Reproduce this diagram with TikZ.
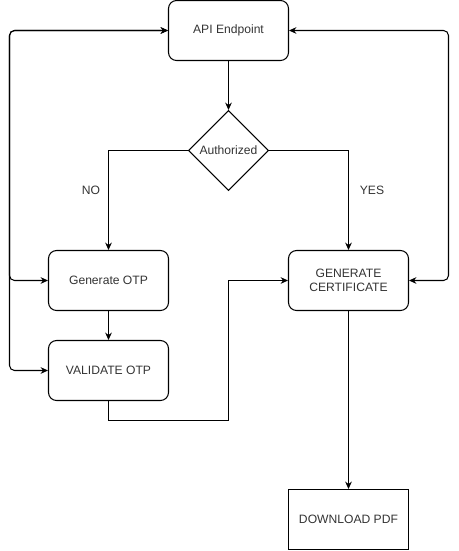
\documentclass[tikz,border=0pt]{standalone}
\usepackage{fontspec}
\setmainfont{Liberation Sans}
\usetikzlibrary{shapes.geometric}
\usetikzlibrary{arrows.meta}
\usetikzlibrary{positioning}

\begin{document}
\begin{tikzpicture}[x=0.02cm, y=-0.02cm, line width=0.6pt,
	flowBox/.style={draw, rounded corners=0.16cm, minimum width=2.4cm, minimum height=1.2cm, align=center, font=\fontsize{6.9}{8.2}\selectfont, text=black!80},
	plainBox/.style={flowBox, rounded corners=0pt},
	decision/.style={draw, diamond, aspect=1, inner sep=0pt, minimum width=1.6cm, minimum height=1.6cm, font=\fontsize{6.9}{8.2}\selectfont, text=black!80},
	flowArrow/.style={-{Stealth[length=4.2pt, width=3.8pt]}},
	loopArrow/.style={{Stealth[length=4.2pt, width=3.8pt]}-{Stealth[length=4.2pt, width=3.8pt]}, rounded corners=0.1cm},
	edgeLabel/.style={font=\fontsize{6.9}{8.2}\selectfont, text=black!80}]
	\useasboundingbox (0,0) rectangle (459,551);
	% boxes
	\node[flowBox] (api) at (228.5,30.5) {API Endpoint};
	\node[decision] (auth) at (228.5,150.5) {Authorized};
	\node[flowBox] (genotp) at (108.5,280.5) {Generate OTP};
	\node[flowBox] (valotp) at (108.5,370.5) {VALIDATE OTP};
	\node[flowBox] (cert) at (348.5,280.5) {GENERATE\\CERTIFICATE};
	\node[plainBox] (pdf) at (348.5,519.5) {DOWNLOAD PDF};
	% helper points
	\coordinate (railL) at (9.5,30.5);
	\coordinate (railR) at (448.5,30.5);
	\coordinate (bend) at (228.5,420.5);
	% connectors
	\draw[flowArrow] (api) -- (auth);
	\draw[flowArrow] (auth.west) -| node[pos=0.7, edgeLabel, left=0.04cm] {NO} (genotp.north);
	\draw[flowArrow] (auth.east) -| node[pos=0.7, edgeLabel, right=0.1cm] {YES} (cert.north);
	\draw[flowArrow] (genotp) -- (valotp);
	\draw[flowArrow] (valotp.south) |- (bend) |- (cert.west);
	\draw[flowArrow] (cert) -- (pdf);
	\draw[loopArrow] (genotp.west) -| (railL) -- (api.west);
	\draw[loopArrow] (valotp.west) -| (railL) -- (api.west);
	\draw[loopArrow] (cert.east) -| (railR) -- (api.east);
\end{tikzpicture}
\end{document}
